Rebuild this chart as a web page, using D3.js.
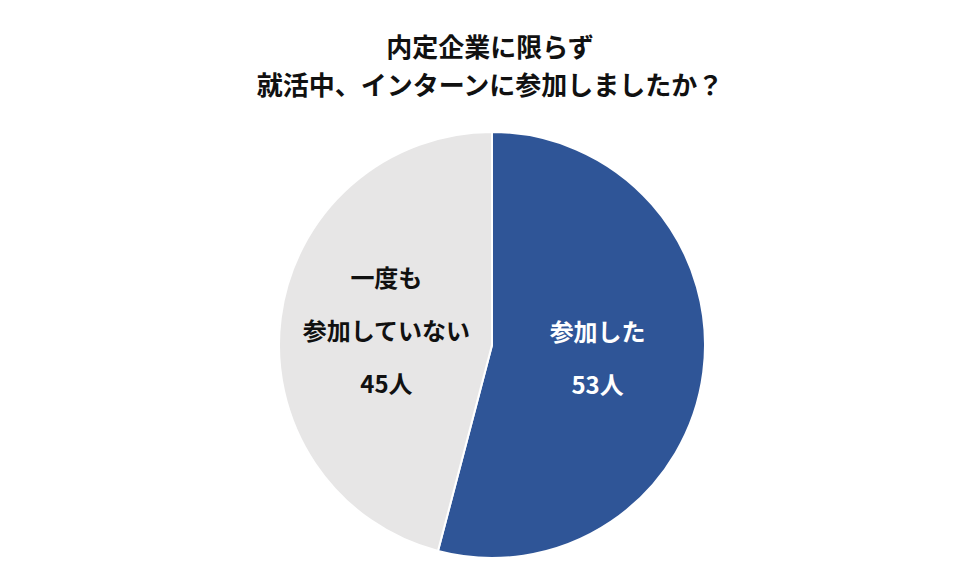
<!DOCTYPE html>
<html><head><meta charset="utf-8">
<script src="https://cdn.jsdelivr.net/npm/d3@7"></script>
<style>body{margin:0;background:#fff}text{font-family:"Noto Sans CJK JP",sans-serif;font-weight:bold}</style>
</head><body><svg id="c" width="977" height="583"></svg>
<script>
const categories = ["参加した", "一度も参加していない"];
const values = [53, 45];
const labelLines = [["参加した", "53人"], ["一度も", "参加していない", "45人"]];
const colors = ["#2F5597", "#E7E6E6"];
const textColors = ["#fff", "#111"];
const titleLines = ["内定企業に限らず", "就活中、インターンに参加しましたか？"];

const svg = d3.select("#c");
const cx = 492, cy = 345, r = 213;
svg.selectAll("text.t").data(titleLines).join("text").attr("class","t")
  .attr("x", 490).attr("y", (d,i)=>57+i*38).attr("text-anchor","middle")
  .attr("font-size", 26).attr("fill","#111").text(d=>d);
const pie = d3.pie().sort(null).value(d=>d)(values);
const arc = d3.arc().innerRadius(0).outerRadius(r);
const g = svg.append("g").attr("transform",`translate(${cx},${cy})`);
g.selectAll("path").data(pie).join("path").attr("d",arc)
  .attr("fill",(d,i)=>colors[i]).attr("stroke","#fff").attr("stroke-width",2);
const labelArc = d3.arc().innerRadius(r*0.5).outerRadius(r*0.5);
pie.forEach((p,i)=>{
  const [x,y] = labelArc.centroid(p);
  const lines = labelLines[i];
  const lh = 53;
  lines.forEach((t,j)=>{
    g.append("text").attr("x", x).attr("y", y + (j-(lines.length-1)/2)*lh + 9)
      .attr("text-anchor","middle").attr("font-size",24).attr("fill",textColors[i]).text(t);
  });
});
</script></body></html>
